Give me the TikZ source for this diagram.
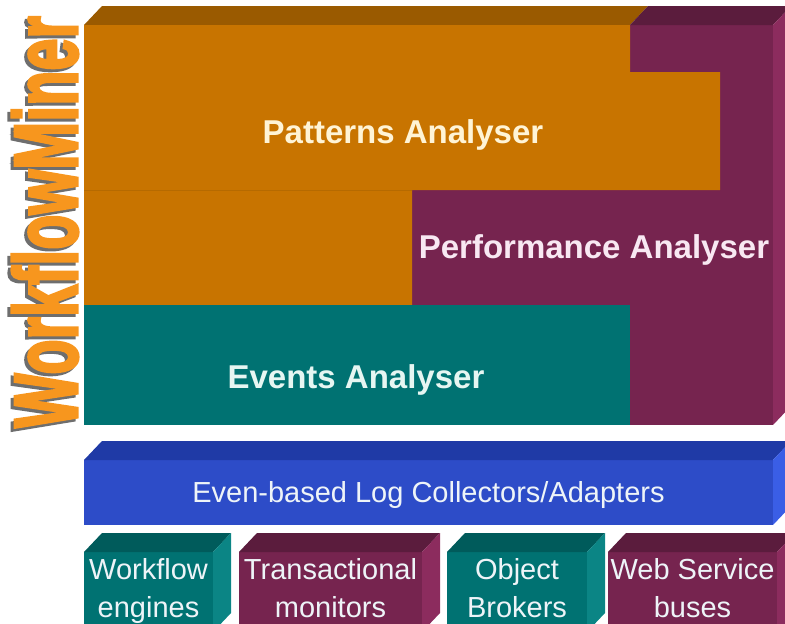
\documentclass[tikz,border=0pt]{standalone}
\usepackage{fontspec}
\setmainfont{Liberation Sans}
\newfontfamily\minerfont[FakeBold=3.5]{Liberation Sans Bold}
\usepackage{graphicx}
\usetikzlibrary{positioning,calc}

\definecolor{ochre}{HTML}{C87400}
\definecolor{ochreT}{HTML}{9A5A00}
\definecolor{plum}{HTML}{76244F}
\definecolor{plumT}{HTML}{5B1C3D}
\definecolor{plumS}{HTML}{8C2C5E}
\definecolor{sea}{HTML}{007272}
\definecolor{seaT}{HTML}{005B5B}
\definecolor{seaS}{HTML}{0B8585}
\definecolor{azure}{HTML}{2D4CC8}
\definecolor{azureT}{HTML}{1F3AA6}
\definecolor{azureS}{HTML}{3A5EE6}
\definecolor{paper}{HTML}{EEF4F8}
\definecolor{creamtext}{HTML}{FFF4D6}
\definecolor{pinktext}{HTML}{F8E8F2}
\definecolor{minttext}{HTML}{E6F6F2}
\definecolor{minerorange}{HTML}{F7961E}
\definecolor{minershadow}{HTML}{6E6E6E}

\begin{document}
\begin{tikzpicture}[x=1pt, y=-1pt,
    front/.style={anchor=north west, inner sep=0pt, outer sep=0pt},
    heading/.style={anchor=base, font=\fontsize{33}{36}\selectfont\bfseries},
    srclabel/.style={inner sep=0pt, align=center, text=paper,
                     font=\fontsize{29}{38}\selectfont},
    title/.style={rotate=90, inner sep=0pt, font=\minerfont\fontsize{90}{90}\selectfont}]
  \useasboundingbox (0,0) rectangle (785,624);
  \clip (0,0) rectangle (785,624);

  \node[title, text=minershadow] (shade) at (42,225) {\scalebox{0.64}[1]{WorkflowMiner}};
  \node[title, text=minerorange] (miner) at (45,222) {\scalebox{0.64}[1]{WorkflowMiner}};

  \node[front, fill=plum, minimum width=689pt, minimum height=400pt] (stack) at (84,25) {};
  \fill[ochreT] (stack.north west) -- ++(18,-19) -- (648,6) -- (630,25) -- cycle;
  \fill[plumT] (630,25) -- (648,6) -- ($(stack.north east)+(18,-19)$) -- (stack.north east) -- cycle;
  \fill[plumS] (stack.north east) -- ++(18,-19) -- ($(stack.south east)+(18,-19)$) -- (stack.south east) -- cycle;
  \fill[ochre] (84,25) -| (630,72) -| (720,190) -| (412,305) -| (84,25) -- cycle;
  \draw[ochreT!40!ochre, line width=0.8pt] (84,190) -- (412,190);
  \fill[sea] (84,305) rectangle (630,425);

  \node[heading, text=creamtext] (pat) at (403,143) {Patterns Analyser};
  \node[heading, text=pinktext] (perf) at (594,258) {Performance Analyser};
  \node[heading, text=minttext] (evt) at (356,388) {Events Analyser};

  \node[front, fill=azure, minimum width=689pt, minimum height=65pt, text height=20pt,
        text depth=0pt, text=paper, font=\fontsize{29}{34}\selectfont] (log) at (84,460)
        {Even-based Log Collectors/Adapters};

  \node[front, fill=sea, minimum width=129pt, minimum height=80pt] (wfe) at (84,552) {};
  \node[front, fill=plum, minimum width=183pt, minimum height=80pt] (tmon) at (239,552) {};
  \node[front, fill=sea, minimum width=140pt, minimum height=80pt] (obr) at (447,552) {};
  \node[front, fill=plum, minimum width=169pt, minimum height=80pt] (wsb) at (608,552) {};

  \foreach \b/\ct/\cs in {log/azureT/azureS, wfe/seaT/seaS, tmon/plumT/plumS,
                          obr/seaT/seaS, wsb/plumT/plumS} {
    \fill[\ct] (\b.north west) -- ++(18,-19) -- ($(\b.north east)+(18,-19)$) -- (\b.north east) -- cycle;
    \fill[\cs] (\b.north east) -- ++(18,-19) -- ($(\b.south east)+(18,-19)$) -- (\b.south east) -- cycle;
  }

  \node[srclabel, below=6pt of wfe.north] (wfetext) {Workflow\\engines};
  \node[srclabel, below=6pt of tmon.north] (tmontext) {Transactional\\monitors};
  \node[srclabel, below=6pt of obr.north] (obrtext) {Object\\Brokers};
  \node[srclabel, below=6pt of wsb.north] (wsbtext) {Web Service\\buses};
\end{tikzpicture}
\end{document}
